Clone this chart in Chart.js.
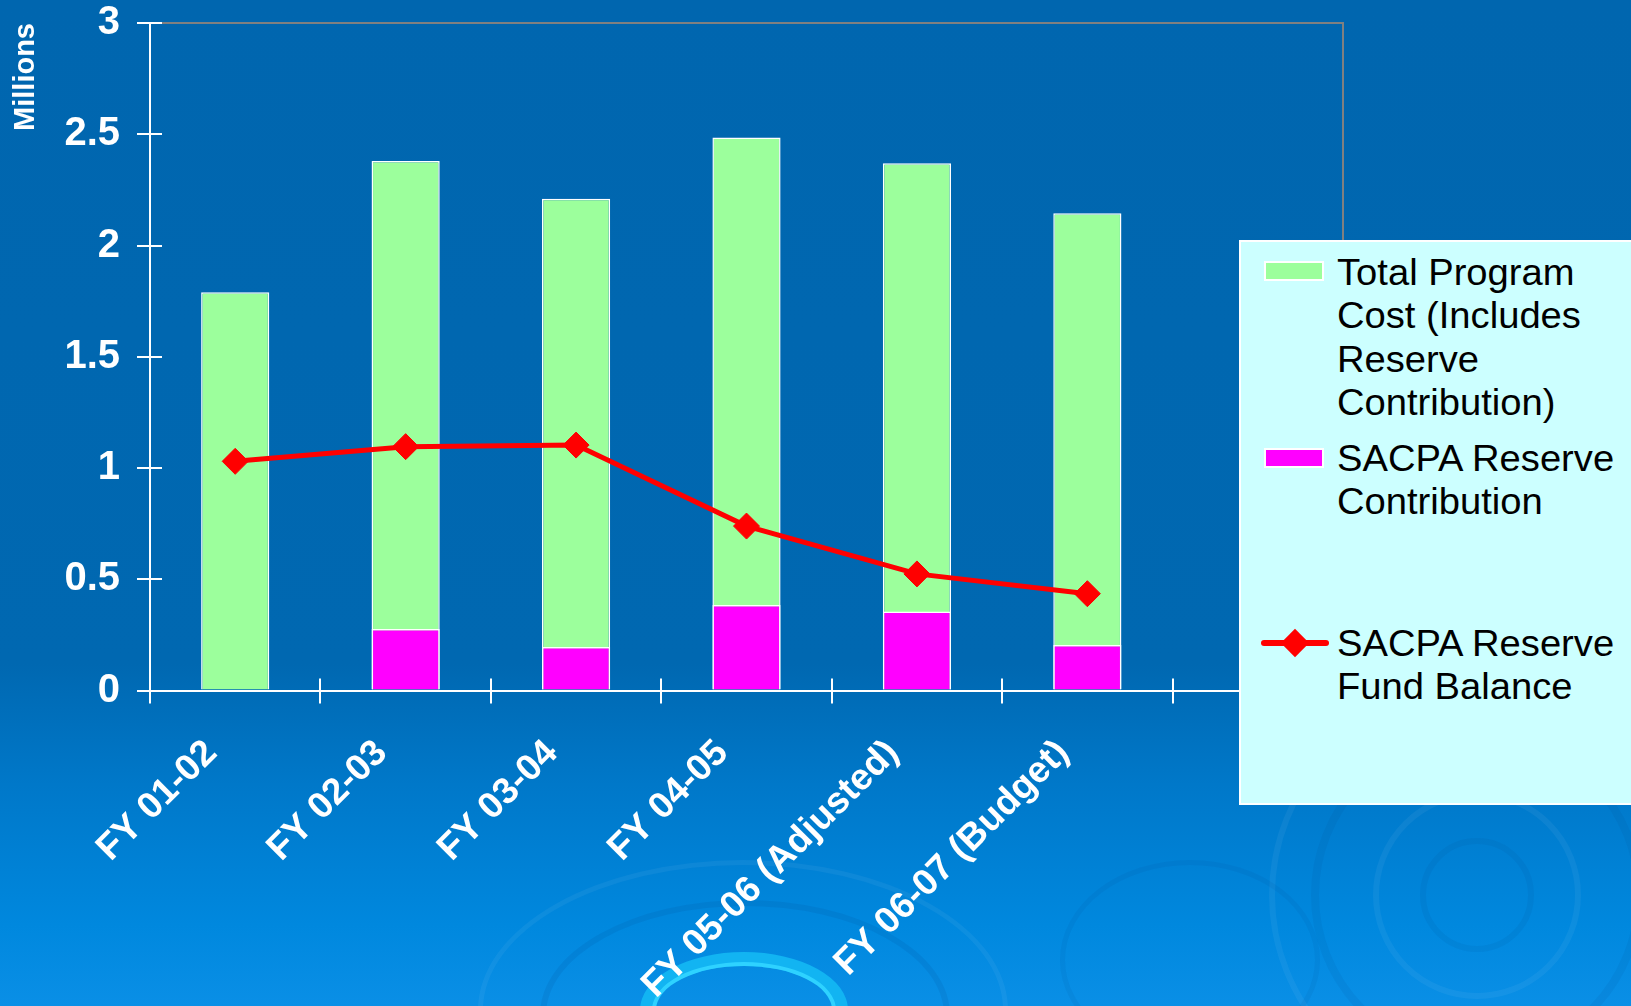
<!DOCTYPE html>
<html>
<head>
<meta charset="utf-8">
<script src="https://cdn.jsdelivr.net/npm/chart.js@4/dist/chart.umd.min.js"></script>
<style>
html,body{margin:0;padding:0;width:1631px;height:1006px;overflow:hidden;}
body{position:relative;background:linear-gradient(to bottom,#0066AF 0%,#0068B1 66%,#0078C9 78%,#0088DE 92%,#0A8FE6 100%);font-family:"Liberation Sans",Arial,sans-serif;}
.ring{position:absolute;border-radius:50%;border-style:solid;box-sizing:border-box;}
#chartBox{position:absolute;left:0;top:0;width:1631px;height:1006px;}
#legend{position:absolute;left:1239px;top:240px;width:420px;height:565px;background:#CCFFFF;border:2px solid #ffffff;box-sizing:border-box;}
.lt{position:absolute;left:1337px;font-size:36px;line-height:43.4px;color:#000;white-space:pre;transform:scaleX(1.06);transform-origin:0 0;}
.sw{position:absolute;box-sizing:border-box;border:2px solid #fff;}
</style>
</head>
<body>
<!-- decorative background rings -->
<div class="ring" style="left:478px;top:860px;width:530px;height:300px;border-width:5px;border-color:rgba(255,255,255,0.05);"></div>
<div class="ring" style="left:540px;top:900px;width:410px;height:230px;border-width:6px;border-color:rgba(0,60,130,0.10);"></div>
<div class="ring" style="left:640px;top:952px;width:208px;height:116px;border-width:14px;border-color:#12B4F2;"></div>
<div class="ring" style="left:652px;top:962px;width:184px;height:96px;border-width:4px;border-color:#2ED2FF;"></div>
<div class="ring" style="left:1269px;top:687px;width:416px;height:416px;border-width:6px;border-color:rgba(255,255,255,0.05);"></div>
<div class="ring" style="left:1311px;top:729px;width:332px;height:332px;border-width:8px;border-color:rgba(0,60,130,0.08);"></div>
<div class="ring" style="left:1373px;top:791px;width:208px;height:208px;border-width:6px;border-color:rgba(255,255,255,0.05);"></div>
<div class="ring" style="left:1420px;top:838px;width:114px;height:114px;border-width:6px;border-color:rgba(0,60,130,0.08);"></div>
<div class="ring" style="left:1060px;top:860px;width:260px;height:200px;border-width:5px;border-color:rgba(0,60,130,0.07);"></div>

<div id="chartBox"><canvas id="c" width="1631" height="1006"></canvas></div>

<div id="legend"></div>
<div class="sw" style="left:1264px;top:261px;width:60px;height:20px;background:#9CFF9C;"></div>
<div class="sw" style="left:1264px;top:448px;width:60px;height:20px;background:#FF00FF;"></div>
<div style="position:absolute;left:1261px;top:640px;width:68px;height:6px;background:#FF0000;border-radius:3px;"></div>
<div style="position:absolute;left:1285px;top:633px;width:20px;height:20px;background:#FF0000;transform:rotate(45deg);"></div>
<div class="lt" id="l1" style="top:251px;"></div>
<div class="lt" id="l2" style="top:437px;"></div>
<div class="lt" id="l3" style="top:622px;"></div>

<script>
// ---- data ----
const categories = ['FY 01-02', 'FY 02-03', 'FY 03-04', 'FY 04-05', 'FY 05-06 (Adjusted)', 'FY 06-07 (Budget)', ''];
const totalProgramCost = [1.79, 2.38, 2.21, 2.485, 2.37, 2.145];
const reserveContribution = [null, 0.276, 0.196, 0.384, 0.355, 0.204];
const reserveFundBalance = [1.03, 1.096, 1.103, 0.739, 0.524, 0.435];
const yTicks = [0, 0.5, 1, 1.5, 2, 2.5, 3];
const seriesNames = [
  'Total Program Cost (Includes Reserve Contribution)',
  'SACPA Reserve Contribution',
  'SACPA Reserve Fund Balance'
];
const legendLines = [
  ['Total Program', 'Cost (Includes', 'Reserve', 'Contribution)'],
  ['SACPA Reserve', 'Contribution'],
  ['SACPA Reserve', 'Fund Balance']
];
const yTitle = 'Millions';

document.getElementById('l1').textContent = legendLines[0].join('\n');
document.getElementById('l2').textContent = legendLines[1].join('\n');
document.getElementById('l3').textContent = legendLines[2].join('\n');

Chart.defaults.font.family = '"Liberation Sans", Arial, sans-serif';

const frame = {
  id: 'frame',
  beforeDatasetsDraw(chart) {
    const {ctx, chartArea: a} = chart;
    ctx.save();
    ctx.strokeStyle = '#808080';
    ctx.lineWidth = 2;
    ctx.beginPath();
    ctx.moveTo(a.left, a.top);
    ctx.lineTo(a.right, a.top);
    ctx.lineTo(a.right, a.bottom);
    ctx.stroke();
    ctx.restore();
  },
  afterDraw(chart) {
    const {ctx, chartArea: a, scales} = chart;
    ctx.save();
    ctx.strokeStyle = '#ffffff';
    ctx.lineWidth = 2;
    scales.y.ticks.forEach(t => {
      const py = Math.round(scales.y.getPixelForValue(t.value));
      ctx.beginPath(); ctx.moveTo(a.left, py); ctx.lineTo(a.left + 12, py); ctx.stroke();
    });
    for (let i = 0; i <= categories.length; i++) {
      const px = Math.round(scales.x.getPixelForValue(i - 0.5));
      ctx.beginPath(); ctx.moveTo(px, a.bottom); ctx.lineTo(px, a.bottom - 12); ctx.stroke();
    }
    ctx.restore();
  }
};

new Chart(document.getElementById('c'), {
  type: 'bar',
  data: {
    labels: categories,
    datasets: [
      {
        type: 'bar', label: seriesNames[0], data: totalProgramCost,
        backgroundColor: '#9CFF9C', borderColor: '#ffffff', borderWidth: 1.5,
        grouped: false, order: 3, barPercentage: 0.4, categoryPercentage: 1
      },
      {
        type: 'bar', label: seriesNames[1], data: reserveContribution,
        backgroundColor: '#FF00FF', borderColor: '#ffffff', borderWidth: 1.5,
        grouped: false, order: 2, barPercentage: 0.4, categoryPercentage: 1
      },
      {
        type: 'line', label: seriesNames[2], data: reserveFundBalance,
        borderColor: '#FF0000', borderWidth: 5, tension: 0,
        pointStyle: 'rectRot', pointRadius: 13, pointHoverRadius: 13,
        pointBackgroundColor: '#FF0000', pointBorderColor: '#FF0000', pointBorderWidth: 1,
        order: 1
      }
    ]
  },
  options: {
    responsive: false,
    animation: false,
    devicePixelRatio: 1,
    layout: {padding: {top: 23, right: 288, bottom: 0, left: 0}},
    plugins: {legend: {display: false}, tooltip: {enabled: false}},
    scales: {
      x: {
        offset: true,
        grid: {display: true, drawOnChartArea: false, offset: true, color: '#ffffff', lineWidth: 2, tickLength: 13},
        border: {display: true, color: '#ffffff', width: 2},
        ticks: {
          color: '#ffffff', autoSkip: false, minRotation: 45, maxRotation: 45,
          padding: 28, labelOffset: -24,
          font: {size: 37, weight: 'bold'}
        },
        afterFit(s) { s.height = 1006 - 690.5; s.paddingLeft = 0; s.paddingRight = 0; }
      },
      y: {
        min: 0, max: 3,
        afterBuildTicks(s) { s.ticks = yTicks.map(v => ({value: v})); },
        grid: {display: true, drawOnChartArea: false, color: '#ffffff', lineWidth: 2, tickLength: 13},
        border: {display: true, color: '#ffffff', width: 2},
        ticks: {
          color: '#ffffff', padding: 17,
          font: {size: 40, weight: 'bold', lineHeight: 1},
          callback: v => String(v)
        },
        title: {
          display: true, text: yTitle, align: 'end', color: '#ffffff',
          font: {size: 29, weight: 'bold'}, padding: {top: 9, bottom: 0}
        },
        afterFit(s) { s.width = 150; s.paddingTop = 0; s.paddingBottom = 0; }
      }
    }
  },
  plugins: [frame]
});
</script>
</body>
</html>
